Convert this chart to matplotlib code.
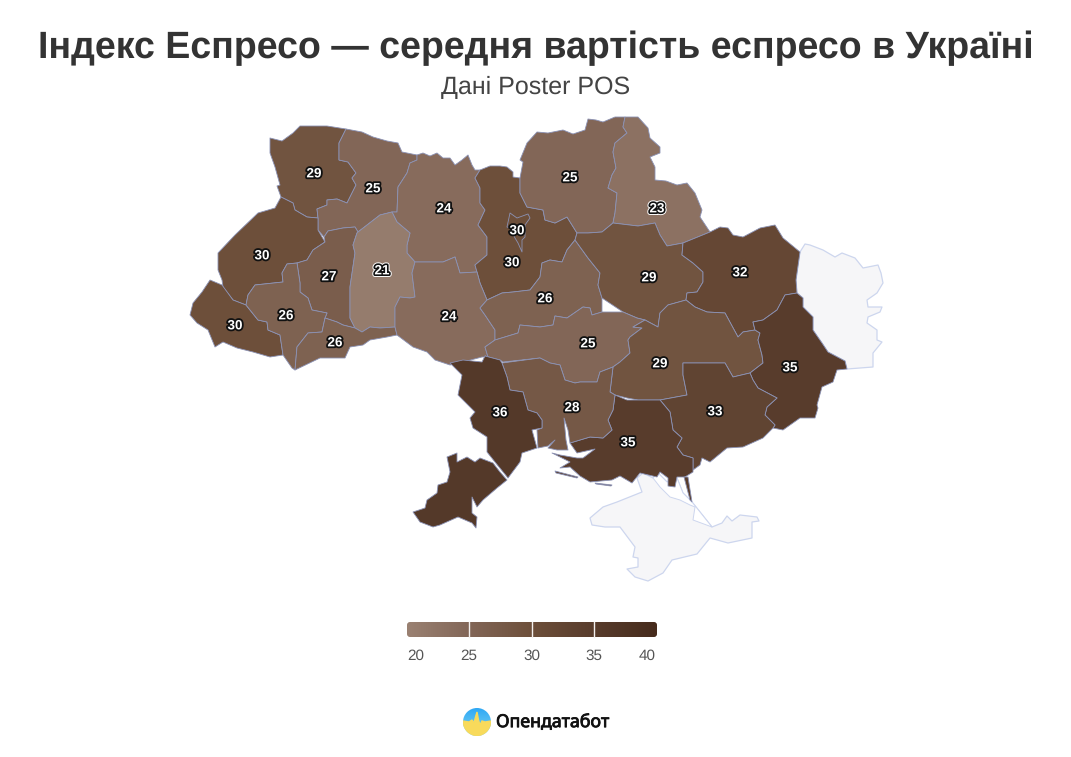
import numpy as np
import matplotlib
matplotlib.use('Agg')
import matplotlib.pyplot as plt
import matplotlib.patheffects as pe
from matplotlib.colors import LinearSegmentedColormap, Normalize
from matplotlib.patches import Polygon, FancyBboxPatch, Circle

# values per region
regions = ['volyn', 'rivne', 'zhytomyr', 'kyiv_obl', 'kyiv', 'chernihiv', 'sumy', 'lviv', 'ternopil',
           'khmelnytskyi', 'zakarpattia', 'frankivsk', 'chernivtsi', 'vinnytsia', 'cherkasy', 'poltava',
           'kharkiv', 'kirovohrad', 'dnipro', 'donetsk', 'zaporizhzhia', 'kherson', 'mykolaiv', 'odesa']
values = [29, 25, 24, 30, 30, 25, 23, 30, 27, 21, 30, 26, 26, 24, 26, 29, 32, 25, 29, 35, 33, 35, 28, 36]
label_x = [314, 373, 444, 512, 517, 570, 657, 262, 329, 382, 235, 286, 335, 449, 545, 649, 740, 588, 660, 790, 715, 628, 572, 500]
label_y = [174, 189, 209, 263, 231, 178, 209, 256, 277, 271, 326, 316, 343, 317, 299, 278, 273, 344, 364, 368, 412, 443, 408, 413]

scale_ticks = [20, 25, 30, 35, 40]
scale_colors = ['#9a8172', '#826657', '#6d4f3a', '#583c2c', '#462b1c']

volyn = [(300,126),(327,126),(346,129),(339,143),(339,160),(348,162),(356,173),(352,178),(356,185),(347,203),(337,199),(327,200),(327,205),(317,209),(318,218),(307,217),(295,210),(293,203),(281,197),(277,186),(280,185),(275,167),(270,153),(270,138),(282,141),(293,133)]
rivne = [(346,129),(362,132),(373,137),(387,141),(398,143),(402,152),(417,155),(417,160),(410,163),(407,173),(398,187),(397,212),(392,212),(380,215),(358,232),(355,227),(343,228),(328,231),(324,237),(318,230),(318,218),(317,209),(327,205),(327,200),(337,199),(347,203),(356,185),(352,178),(356,173),(348,162),(339,160),(339,143)]
lviv = [(281,197),(293,203),(295,210),(307,217),(318,218),(318,230),(325,242),(313,250),(307,260),(297,263),(287,264),(282,273),(283,282),(255,285),(248,295),(246,305),(233,300),(223,287),(222,280),(218,270),(218,253),(235,235),(258,213),(275,208)]
zakarpattia = [(210,280),(222,285),(233,300),(246,305),(258,320),(267,322),(268,330),(280,335),(283,355),(270,357),(253,352),(237,348),(223,342),(215,347),(208,330),(197,323),(190,315),(193,303),(202,292)]
frankivsk = [(283,282),(282,273),(287,264),(297,263),(300,283),(300,292),(308,298),(312,310),(327,313),(325,318),(322,332),(308,333),(297,347),(295,370),(292,368),(283,355),(280,335),(268,330),(267,322),(258,320),(246,305),(248,295),(255,285)]
ternopil = [(328,231),(343,228),(355,227),(358,232),(357,233),(353,245),(355,253),(350,287),(350,318),(355,328),(343,325),(337,322),(325,318),(327,313),(312,310),(308,298),(300,292),(300,283),(297,263),(307,260),(313,250),(325,242),(324,237)]
chernivtsi = [(325,318),(337,322),(343,325),(355,328),(362,332),(370,327),(380,328),(395,327),(397,335),(387,337),(370,340),(363,345),(350,347),(345,358),(320,358),(295,370),(297,347),(308,333),(322,332)]
khmelnytskyi = [(358,232),(380,215),(392,212),(397,222),(410,233),(407,245),(407,253),(415,262),(412,273),(415,297),(410,298),(400,297),(395,307),(395,327),(380,328),(370,327),(362,332),(355,328),(350,318),(350,287),(355,253),(353,245),(357,233)]
zhytomyr = [(417,155),(423,153),(430,156),(437,153),(443,158),(450,158),(455,165),(462,160),(468,155),(472,165),(475,170),(480,170),(475,178),(480,188),(480,203),(485,210),(478,225),(487,237),(487,255),(475,265),(477,272),(460,273),(455,257),(443,262),(415,262),(407,253),(407,245),(410,233),(397,222),(392,212),(397,212),(398,187),(407,173),(410,163),(417,160)]
kyiv_obl = [(480,170),(490,166),(500,166),(507,167),(513,172),(513,177),(520,178),(520,193),(527,207),(543,210),(545,220),(555,223),(567,217),(577,233),(575,240),(567,250),(562,262),(550,260),(542,263),(540,277),(530,290),(513,292),(502,293),(487,300),(480,283),(477,272),(475,265),(487,255),(487,237),(478,225),(485,210),(480,203),(480,188),(475,178)]
kyiv = [(510,213),(517,218),(528,214),(530,218),(525,225),(525,237),(522,240),(522,252),(518,243),(515,238),(510,228),(507,227)]
chernihiv = [(537,132),(548,133),(563,130),(573,134),(585,130),(588,119),(596,120),(603,122),(615,117),(625,117),(623,127),(627,133),(615,143),(613,152),(616,168),(612,175),(608,188),(617,193),(615,213),(613,223),(602,232),(588,233),(577,233),(567,217),(555,223),(545,220),(543,210),(527,207),(520,193),(520,178),(523,162),(520,160),(527,143)]
sumy = [(625,117),(638,117),(648,128),(650,138),(660,147),(660,153),(650,157),(655,167),(655,180),(666,181),(677,185),(687,183),(695,193),(702,210),(700,217),(710,232),(683,243),(667,246),(660,235),(655,223),(638,226),(613,223),(615,213),(617,193),(608,188),(612,175),(616,168),(613,152),(615,143),(627,133),(623,127)]
kharkiv = [(710,232),(720,227),(728,228),(733,235),(743,237),(760,228),(775,225),(783,238),(800,252),(796,280),(797,293),(785,295),(777,310),(763,320),(753,322),(755,330),(743,332),(738,337),(725,313),(707,312),(695,307),(686,300),(687,293),(697,292),(703,282),(703,272),(693,263),(682,255),(683,243)]
poltava = [(577,233),(588,233),(602,232),(613,223),(638,226),(655,223),(660,235),(667,246),(683,243),(682,255),(693,263),(703,272),(703,282),(697,292),(687,293),(686,300),(668,305),(660,313),(658,327),(645,320),(637,318),(623,312),(602,298),(598,285),(600,273),(588,258),(575,240)]
cherkasy = [(575,240),(588,258),(600,273),(598,285),(602,298),(602,312),(592,315),(590,308),(583,307),(567,318),(555,316),(553,325),(540,327),(520,325),(518,333),(495,340),(495,330),(485,315),(480,308),(487,300),(502,293),(513,292),(530,290),(540,277),(542,263),(550,260),(562,262),(567,250)]
vinnytsia = [(415,262),(443,262),(455,257),(460,273),(477,272),(480,283),(487,300),(480,308),(485,315),(495,330),(495,340),(485,347),(488,357),(482,357),(463,362),(450,365),(435,360),(427,352),(413,347),(397,335),(395,327),(395,307),(400,297),(410,298),(415,297),(412,273)]
kirovohrad = [(485,347),(495,340),(518,333),(520,325),(540,327),(553,325),(555,316),(567,318),(583,307),(590,308),(592,315),(602,312),(623,312),(637,318),(645,320),(633,327),(642,328),(630,337),(628,340),(630,353),(620,362),(613,367),(600,372),(597,382),(580,382),(575,383),(565,380),(560,365),(550,363),(540,358),(503,362),(500,360),(485,356),(488,357)]
dnipro = [(686,300),(695,307),(707,312),(725,313),(738,337),(743,332),(755,330),(760,333),(758,340),(762,355),(763,363),(750,373),(733,377),(725,363),(710,363),(683,363),(683,375),(687,395),(660,400),(638,400),(627,398),(615,395),(610,392),(613,367),(620,362),(630,353),(628,340),(630,337),(642,328),(633,327),(645,320),(658,327),(660,313),(668,305)]
donetsk = [(797,293),(803,298),(803,307),(813,317),(813,330),(822,343),(828,352),(845,361),(847,369),(837,370),(833,382),(822,387),(817,405),(818,408),(815,418),(800,418),(783,430),(773,428),(775,425),(765,415),(767,407),(777,398),(758,388),(753,380),(750,373),(763,363),(762,355),(758,340),(760,333),(755,330),(753,322),(763,320),(777,310),(785,295)]
zaporizhzhia = [(660,400),(687,395),(683,375),(683,363),(710,363),(725,363),(733,377),(750,373),(753,380),(758,388),(777,398),(767,407),(765,415),(775,425),(773,428),(763,438),(743,447),(727,448),(710,462),(702,458),(700,465),(693,470),(693,458),(683,455),(677,447),(682,438),(673,430),(670,412)]
kherson = [(615,395),(627,400),(638,400),(660,400),(670,412),(673,430),(682,438),(677,447),(683,455),(693,458),(693,472),(685,477),(677,477),(675,487),(668,486),(668,478),(660,472),(657,477),(640,473),(632,483),(620,476),(612,480),(590,482),(580,476),(570,467),(560,468),(570,462),(552,453),(560,455),(577,458),(583,458),(595,449),(577,453),(570,443),(590,437),(603,438),(612,430),(608,420),(613,410)]
mykolaiv = [(502,363),(540,358),(550,363),(560,365),(565,380),(575,383),(580,382),(597,382),(600,372),(613,367),(610,392),(615,395),(613,410),(608,420),(612,430),(603,438),(590,437),(570,443),(568,430),(564,418),(566,440),(568,450),(557,450),(548,448),(555,440),(548,446),(538,448),(537,430),(542,428),(542,420),(537,413),(528,410),(523,392),(510,390),(507,377)]
odesa_north = [(450,363),(463,360),(482,362),(485,356),(500,360),(502,363),(507,377),(510,390),(523,392),(528,410),(537,413),(542,420),(542,428),(532,430),(537,448),(522,453),(520,462),(508,478),(495,462),(487,452),(487,437),(473,428),(470,418),(475,412),(458,395),(462,375)]
odesa_south = [(447,457),(457,453),(457,462),(467,457),(475,462),(480,458),(493,463),(500,472),(507,480),(497,488),(483,500),(477,507),(472,497),(472,513),(477,517),(476,528),(472,523),(458,517),(440,525),(433,527),(420,522),(413,512),(425,508),(427,500),(437,493),(438,485),(447,482),(450,472)]
luhansk = [(800,252),(805,244),(810,245),(823,250),(835,257),(842,253),(855,258),(863,268),(878,265),(881,273),(883,283),(877,293),(867,300),(868,307),(882,307),(880,312),(868,317),(867,323),(877,330),(877,340),(882,342),(873,353),(873,367),(847,369),(845,361),(828,352),(822,343),(813,330),(813,317),(803,307),(803,298),(797,293),(796,280)]
crimea = [(637,478),(643,473),(653,478),(658,473),(667,482),(677,478),(683,493),(692,502),(712,527),(722,523),(727,516),(732,521),(740,515),(757,517),(759,521),(752,522),(752,538),(728,543),(710,538),(697,554),(672,560),(663,573),(648,581),(635,577),(627,569),(638,567),(638,558),(633,557),(635,547),(620,527),(605,527),(592,525),(590,518),(603,507),(617,502),(642,492)]
sivash = [(677,478),(683,493),(692,502),(712,527),(693,520),(695,507),(690,505),(680,500),(670,497),(660,487),(653,478),(658,473),(667,482)]
spit_a = [(555,471),(578,477),(577,478),(556,473)]
spit_b = [(595,483),(612,485),(611,486),(596,484)]
arabat = [(684,477),(688,477),(692,502),(690,500)]

shapes = {'volyn': [volyn], 'rivne': [rivne], 'zhytomyr': [zhytomyr], 'kyiv_obl': [kyiv_obl], 'kyiv': [kyiv],
          'chernihiv': [chernihiv], 'sumy': [sumy], 'lviv': [lviv], 'ternopil': [ternopil],
          'khmelnytskyi': [khmelnytskyi], 'zakarpattia': [zakarpattia], 'frankivsk': [frankivsk],
          'chernivtsi': [chernivtsi], 'vinnytsia': [vinnytsia], 'cherkasy': [cherkasy], 'poltava': [poltava],
          'kharkiv': [kharkiv], 'kirovohrad': [kirovohrad], 'dnipro': [dnipro], 'donetsk': [donetsk],
          'zaporizhzhia': [zaporizhzhia], 'kherson': [kherson, spit_a, spit_b, arabat], 'mykolaiv': [mykolaiv],
          'odesa': [odesa_north, odesa_south]}

plt.rcParams['font.family'] = ['Liberation Sans', 'DejaVu Sans']
plt.rcParams['text.hinting'] = 'no_hinting'

cmap = LinearSegmentedColormap.from_list('coffee', scale_colors)
norm = Normalize(20, 40)

fig = plt.figure(figsize=(10.71, 7.57), dpi=100)
ax = fig.add_axes([0, 0, 1, 1])

for grey in [luhansk, crimea]:
    ax.add_patch(Polygon(grey, closed=True, facecolor='#f6f6f8', edgecolor='#cdd6ee', linewidth=0.9, joinstyle='round'))
ax.add_patch(Polygon(sivash, closed=True, facecolor='white', edgecolor='#cdd6ee', linewidth=0.7))

for name, val in zip(regions, values):
    for outline in shapes[name]:
        ax.add_patch(Polygon(outline, closed=True, facecolor=cmap(norm(val)), edgecolor='#8b92b5',
                             linewidth=0.6, joinstyle='round'))

for x, y, val in zip(label_x, label_y, values):
    halo = [pe.withStroke(linewidth=2.6, foreground='#111111')]
    if val <= 23:
        # the palest regions get a white rim round the dark one
        halo = [pe.Stroke(linewidth=3.8, foreground='white'), pe.Stroke(linewidth=2.4, foreground='#111111'), pe.Normal()]
    ax.text(x, y, str(val), ha='center', va='center', fontsize=9.7, fontweight='bold', color='white',
            path_effects=halo, zorder=5)

ax.text(536, 48.5, 'Індекс Еспресо — середня вартість еспресо в Україні', ha='center', va='center',
        fontsize=27.0, fontweight='bold', color='#333333')
ax.text(536, 88, 'Дані Poster POS', ha='center', va='center', fontsize=18, color='#444444')

# scale bar
gradient = norm(np.linspace(20, 40, 256)).reshape(1, -1)
bar = ax.imshow(gradient, cmap=cmap, vmin=0, vmax=1, extent=(407, 657, 637, 622), aspect='auto', zorder=2)
clip = FancyBboxPatch((409, 624), 246, 11, boxstyle='round,pad=2,rounding_size=3', transform=ax.transData,
                      facecolor='none', edgecolor='none')
ax.add_patch(clip)
bar.set_clip_path(clip)
for tick_x in [469, 532, 594]:
    ax.plot([tick_x, tick_x], [622, 637], color='#f4f0ee', linewidth=1, zorder=3)
tick_pos = [416, 469, 532, 594, 647]
for tick_x, tick in zip(tick_pos, scale_ticks):
    ax.text(tick_x, 656, str(tick), ha='center', va='center', fontsize=11, color='#555555')

# logo
logo_top = ax.imshow(np.linspace(0, 1, 64).reshape(-1, 1), cmap=LinearSegmentedColormap.from_list('sky', ['#2fa8f5', '#7fd6f0']),
                     extent=(463, 491, 736, 708), aspect='auto', zorder=2)
logo_circle = Circle((477, 722), 14, transform=ax.transData, facecolor='none', edgecolor='none')
ax.add_patch(logo_circle)
logo_top.set_clip_path(logo_circle)
wave = ax.fill([463, 469, 472, 474, 475.5, 477, 478.5, 480, 482, 485, 491, 491, 463],
               [721, 722, 720, 723, 717, 712, 720, 725, 721, 722, 721, 736, 736],
               color='#f8da5b', zorder=3)[0]
wave.set_clip_path(logo_circle)
ax.text(496, 722.5, 'Опендатабот', ha='left', va='center', fontsize=12.8, family=['Noto Sans', 'DejaVu Sans'],
        color='#111111', path_effects=[pe.withStroke(linewidth=0.6, foreground='#111111')])

ax.set_xlim(0, 1071)
ax.set_ylim(757, 0)
ax.axis('off')

fig.savefig('out.png', dpi=100, facecolor='white')
plt.close()
